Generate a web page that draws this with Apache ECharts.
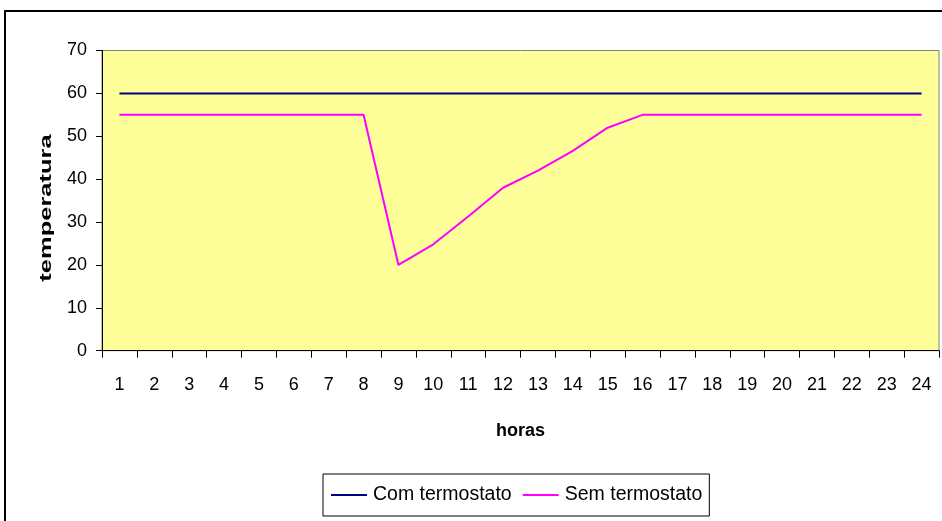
<!DOCTYPE html>
<html><head><meta charset="utf-8">
<script src="https://cdn.jsdelivr.net/npm/echarts@6/dist/echarts.min.js"></script>
<style>html,body{margin:0;padding:0;background:#fff}#c{width:942px;height:521px}</style>
</head><body><div id="c"></div>
<script>
const horas = ['1','2','3','4','5','6','7','8','9','10','11','12','13','14','15','16','17','18','19','20','21','22','23','24'];
const comTermostato = [60,60,60,60,60,60,60,60,60,60,60,60,60,60,60,60,60,60,60,60,60,60,60,60];
const semTermostato = [55,55,55,55,55,55,55,55,20,24.8,31.3,38,42,46.6,52,55,55,55,55,55,55,55,55,55];
const yTicks = {min:0, max:70, interval:10};

const chart = echarts.init(document.getElementById('c'), null, {renderer:'canvas'});
const regular = '"Liberation Sans", Arial, sans-serif';
chart.setOption({
  animation:false,
  backgroundColor:'#fff',
  graphic:[
    {type:'rect', shape:{x:5,y:11,width:960,height:540}, style:{fill:'none',stroke:'#000',lineWidth:2}, silent:true, z:0},
    {type:'text', x:46, y:208, rotation:Math.PI/2, scaleX:1.5, scaleY:1.0,
     style:{text:'temperatura', font:'bold 17px '+regular, fill:'#000', align:'center', verticalAlign:'middle'}, silent:true}
  ],
  grid:{left:102,right:3,top:50.5,bottom:170.3,show:true,backgroundColor:'#FFFF99',borderColor:'#808080',borderWidth:1},
  legend:{
    left:323, top:474,
    padding:[10,7,10,8],
    borderColor:'#000', borderWidth:1, backgroundColor:'#fff',
    itemWidth:36, itemHeight:2, itemGap:11, icon:'rect',
    textStyle:{fontFamily:regular,fontSize:19.5,color:'#000',lineHeight:22,padding:[0,0,0,1]},
    data:['Com termostato','Sem termostato']
  },
  xAxis:{
    type:'category', data:horas, boundaryGap:true,
    name:'horas', nameLocation:'middle', nameGap:71,
    nameTextStyle:{fontFamily:regular,fontSize:18,fontWeight:'bold',color:'#000'},
    axisLine:{lineStyle:{color:'#000',width:1}},
    axisTick:{show:true,length:7,inside:false,alignWithLabel:false,lineStyle:{color:'#000'}},
    axisLabel:{fontFamily:regular,fontSize:18,color:'#000',margin:25,interval:0},
    splitLine:{show:false}
  },
  yAxis:{
    type:'value', min:yTicks.min, max:yTicks.max, interval:yTicks.interval,
    axisLine:{show:true,lineStyle:{color:'#000',width:1}},
    axisTick:{show:true,length:6,lineStyle:{color:'#000'}},
    axisLabel:{fontFamily:regular,fontSize:18,color:'#000',margin:15},
    splitLine:{show:false}
  },
  series:[
    {name:'Com termostato',type:'line',data:comTermostato,symbol:'none',lineStyle:{color:'#000080',width:2},itemStyle:{color:'#000080'}},
    {name:'Sem termostato',type:'line',data:semTermostato,symbol:'none',lineStyle:{color:'#FF00FF',width:2},itemStyle:{color:'#FF00FF'}}
  ]
});
</script></body></html>
